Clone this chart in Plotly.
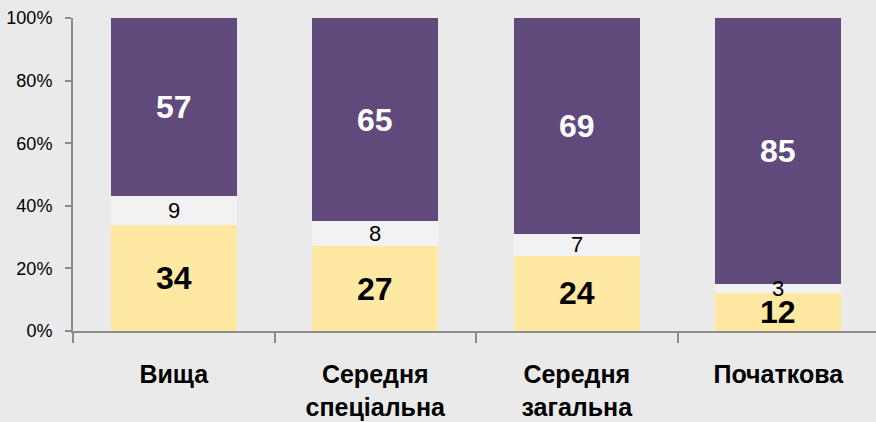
import plotly.graph_objects as go

categories = ["Вища", "Середня<br>спеціальна", "Середня<br>загальна", "Початкова"]
bottom_vals = [34, 27, 24, 12]
middle_vals = [9, 8, 7, 3]
top_vals = [57, 65, 69, 85]
y_tickvals = [0, 20, 40, 60, 80, 100]
y_ticktext = ["0%", "20%", "40%", "60%", "80%", "100%"]

FONT = "Liberation Sans Narrow, Arial Narrow, Liberation Sans, Arial, sans-serif"
C_BOTTOM = "#FFE8A1"
C_MID = "#F2F2F2"
C_TOP = "#604A7B"
BG = "#EAEAEA"
AX = "#8C8C8C"

fig = go.Figure()
for vals, col in [(bottom_vals, C_BOTTOM), (middle_vals, C_MID), (top_vals, C_TOP)]:
    fig.add_trace(go.Bar(x=categories, y=vals, marker=dict(color=col, line=dict(width=0)),
                         hoverinfo="skip"))

annotations = []
for i, cat in enumerate(categories):
    b, m, t = bottom_vals[i], middle_vals[i], top_vals[i]
    annotations.append(dict(x=cat, y=b / 2, text=str(b), showarrow=False,
                            font=dict(family=FONT, size=32, color="black", weight="bold"),
                            xref="x", yref="y"))
    annotations.append(dict(x=cat, y=b + m / 2, text=str(m), showarrow=False,
                            font=dict(family=FONT, size=22, color="black"),
                            xref="x", yref="y"))
    annotations.append(dict(x=cat, y=b + m + t / 2, text=str(t), showarrow=False,
                            font=dict(family=FONT, size=32, color="white", weight="bold"),
                            xref="x", yref="y"))

fig.update_layout(
    barmode="stack",
    bargap=0.375,
    width=876, height=422,
    margin=dict(l=73, r=0, t=18, b=91),
    paper_bgcolor=BG, plot_bgcolor=BG,
    showlegend=False,
    annotations=annotations,
    xaxis=dict(
        range=[-0.5, 3.485], automargin=False,
        showline=True, linecolor=AX, linewidth=2,
        ticks="outside", tickson="boundaries", ticklen=10, tickcolor=AX, tickwidth=2,
        ticklabelstandoff=20,
        tickfont=dict(family=FONT, size=25, color="black", weight="bold"),
        showgrid=False, zeroline=False, fixedrange=True,
    ),
    yaxis=dict(
        range=[0, 100], automargin=False,
        tickvals=y_tickvals, ticktext=y_ticktext,
        showline=True, linecolor=AX, linewidth=2,
        ticks="outside", ticklen=6, tickcolor=AX, tickwidth=2,
        ticklabelstandoff=9,
        tickfont=dict(family=FONT, size=18, color="black"),
        showgrid=False, zeroline=False, fixedrange=True,
    ),
)

fig.write_html("out.html", config={"displayModeBar": False},
               post_script="document.body.style.margin='0';document.body.style.background='#EAEAEA';")
